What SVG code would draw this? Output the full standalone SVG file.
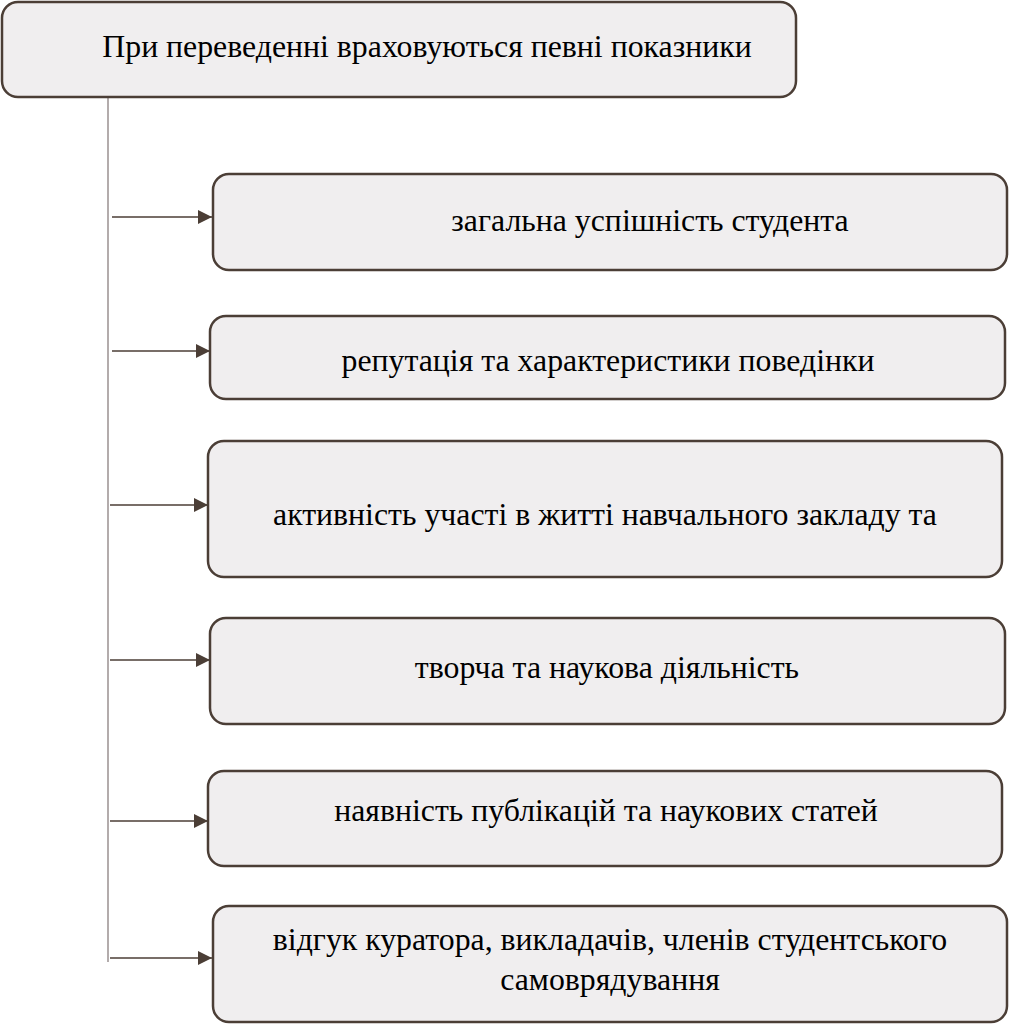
<svg xmlns="http://www.w3.org/2000/svg" width="1009" height="1024" viewBox="0 0 1009 1024">
<style>
.box{fill:#f0eeef;stroke:#4b3e36;stroke-width:2.5}
.t{font-family:"Liberation Serif","Times New Roman",serif;font-size:31.8px;fill:#000;text-anchor:middle}
.c{stroke:#4b3e36;stroke-width:1.3;fill:none}
</style>
<defs>
<marker id="ah" markerWidth="15" markerHeight="14" refX="14" refY="7" orient="auto" markerUnits="userSpaceOnUse">
<path d="M0,0 L14,7 L0,14 Z" fill="#4b3e36"/>
</marker>
</defs>
<rect width="1009" height="1024" fill="#fff"/>
<g id="connectors">
<line x1="108" y1="96" x2="108" y2="962" stroke="#9a9090" stroke-width="1.5"/>
<line class="c" x1="112" y1="217" x2="212" y2="217" marker-end="url(#ah)"/>
<line class="c" x1="112" y1="351" x2="210" y2="351" marker-end="url(#ah)"/>
<line class="c" x1="110" y1="505" x2="208" y2="505" marker-end="url(#ah)"/>
<line class="c" x1="110" y1="660" x2="210" y2="660" marker-end="url(#ah)"/>
<line class="c" x1="110" y1="821" x2="208" y2="821" marker-end="url(#ah)"/>
<line class="c" x1="110" y1="958" x2="212" y2="958" marker-end="url(#ah)"/>
</g>
<g id="root">
<rect class="box" x="2" y="2" width="794" height="95" rx="16"/>
<text class="t" x="427" y="57">При переведенні враховуються певні показники</text>
</g>
<g id="n1">
<rect class="box" x="213" y="174" width="794" height="96" rx="16"/>
<text class="t" x="650" y="231">загальна успішність студента</text>
</g>
<g id="n2">
<rect class="box" x="210" y="316" width="795" height="83" rx="16"/>
<text class="t" x="608" y="371">репутація та характеристики поведінки</text>
</g>
<g id="n3">
<rect class="box" x="208" y="441" width="794" height="136" rx="16"/>
<text class="t" x="605" y="525">активність участі в житті навчального закладу та</text>
</g>
<g id="n4">
<rect class="box" x="210" y="618" width="795" height="106" rx="16"/>
<text class="t" x="607" y="678">творча та наукова діяльність</text>
</g>
<g id="n5">
<rect class="box" x="208" y="771" width="794" height="95" rx="16"/>
<text class="t" x="606" y="821">наявність публікацій та наукових статей</text>
</g>
<g id="n6">
<rect class="box" x="213" y="906" width="794" height="116" rx="16"/>
<text class="t" x="610" y="950">відгук куратора, викладачів, членів студентського</text>
<text class="t" x="610" y="990">самоврядування</text>
</g>
</svg>
